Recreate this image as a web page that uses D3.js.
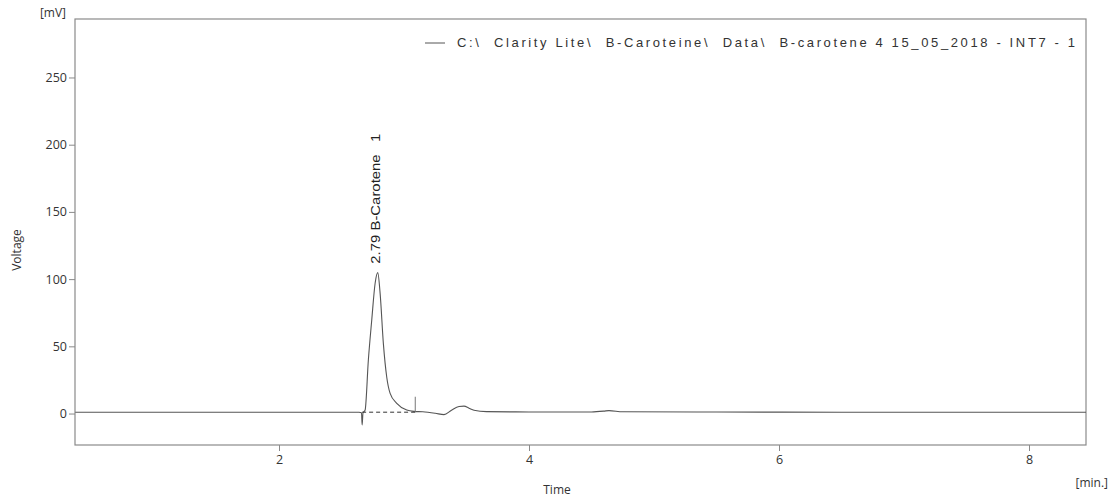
<!DOCTYPE html>
<html>
<head>
<meta charset="utf-8">
<script src="https://cdn.jsdelivr.net/npm/d3@7"></script>
<style>
  body { margin: 0; background: #fff; }
  text { font-family: "Open Sans", "Noto Sans", sans-serif; white-space: pre; }
</style>
</head>
<body>
<svg width="1117" height="497"></svg>
<script>
// chromatogram trace (time in min, voltage in mV)
const times = [0.37, 1.0, 2.0, 2.5, 2.64, 2.66, 2.665, 2.672, 2.689, 2.715, 2.742, 2.769, 2.79,
  2.809, 2.835, 2.862, 2.889, 2.942, 3.022, 3.08, 3.15, 3.25, 3.32, 3.38, 3.44, 3.48, 3.52, 3.56,
  3.66, 4.0, 4.5, 4.6, 4.64, 4.75, 5.5, 6.5, 7.5, 8.456];
const voltage = [1.0, 1.0, 1.0, 1.0, 1.0, 0.6, -8.5, 0.5, 2.6, 40, 69.6, 96.9, 104.8,
  89.4, 52, 27, 15, 7.6, 2.6, 1.6, 1.3, 0.2, -0.8, 2.5, 5.2, 5.5, 4.0, 2.5,
  1.4, 1.2, 1.2, 1.8, 2.2, 1.3, 1.1, 1.0, 1.0, 1.0];

const yTicks = [0, 50, 100, 150, 200, 250];
const xTicks = [2, 4, 6, 8];

const peakLabel = '2.79 B-Carotene   1';
const peakTime = 2.79, peakHeight = 104.8;
const baseStart = 2.665, baseEnd = 3.09, baseLevel = 1.0;
const endMarkTop = 12.5;

const legendText = 'C:\\  Clarity Lite\\  B-Caroteine\\  Data\\  B-carotene 4 15_05_2018 - INT7 - 1';

const svg = d3.select('svg');
const mLeft = 75, mRight = 1086, mTop = 19, mBottom = 445;

const x = d3.scaleLinear().domain([0.368, 8.456]).range([mLeft, mRight]);
const y = d3.scaleLinear().domain([-23.4, 293.5]).range([mBottom, mTop]);

// frame
svg.append('rect')
  .attr('x', mLeft).attr('y', mTop)
  .attr('width', mRight - mLeft).attr('height', mBottom - mTop)
  .attr('fill', 'none').attr('stroke', '#8a8a8a').attr('stroke-width', 1.2);

// axes
const yAxis = svg.append('g')
  .attr('transform', `translate(${mLeft},0)`)
  .call(d3.axisLeft(y).tickValues(yTicks).tickSize(6).tickPadding(2).tickSizeOuter(0));
const xAxis = svg.append('g')
  .attr('transform', `translate(0,${mBottom})`)
  .call(d3.axisBottom(x).tickValues(xTicks).tickSize(6).tickPadding(4).tickSizeOuter(0));

[yAxis, xAxis].forEach(g => {
  g.select('.domain').remove();
  g.selectAll('line').attr('stroke', '#8a8a8a');
  g.selectAll('text')
    .attr('fill', '#333')
    .style('font-size', '12.5px')
    .style('font-family', '"Open Sans", sans-serif');
});

// trace
const pts = times.map((t, i) => [t, voltage[i]]);
svg.append('path')
  .datum(pts)
  .attr('fill', 'none')
  .attr('stroke', '#555')
  .attr('stroke-width', 1.1)
  .attr('d', d3.line().x(d => x(d[0])).y(d => y(d[1])).curve(d3.curveMonotoneX));

// peak baseline (dashed) and end marker
svg.append('line')
  .attr('x1', x(baseStart)).attr('x2', x(baseEnd))
  .attr('y1', y(baseLevel)).attr('y2', y(baseLevel))
  .attr('stroke', '#333').attr('stroke-dasharray', '4,3');
svg.append('line')
  .attr('x1', x(baseEnd)).attr('x2', x(baseEnd))
  .attr('y1', y(baseLevel)).attr('y2', y(endMarkTop))
  .attr('stroke', '#777');

// peak label
svg.append('text')
  .attr('transform', `translate(${x(peakTime) + 2},${y(peakHeight) - 9}) rotate(-90)`)
  .attr('textLength', 130)
  .attr('lengthAdjust', 'spacingAndGlyphs')
  .attr('fill', '#222')
  .style('font-family', '"Liberation Sans Narrow", "Liberation Sans", Arial, sans-serif')
  .style('font-size', '13px')
  .text(peakLabel);

// legend
svg.append('line')
  .attr('x1', 425).attr('x2', 445).attr('y1', 43).attr('y2', 43)
  .attr('stroke', '#555');
svg.append('text')
  .attr('x', 457).attr('y', 47)
  .attr('textLength', 618)
  .attr('lengthAdjust', 'spacing')
  .attr('fill', '#333')
  .style('font-family', '"Liberation Sans", Arial, sans-serif')
  .style('font-size', '13px')
  .text(legendText);

// axis titles and units
svg.append('text')
  .attr('x', 66).attr('y', 17)
  .attr('text-anchor', 'end')
  .attr('fill', '#333').style('font-size', '12px')
  .text('[mV]');
svg.append('text')
  .attr('transform', 'translate(21,250) rotate(-90)')
  .attr('text-anchor', 'middle')
  .attr('fill', '#333').style('font-size', '12px')
  .text('Voltage');
svg.append('text')
  .attr('x', 557).attr('y', 494)
  .attr('text-anchor', 'middle')
  .attr('fill', '#333').style('font-size', '12px')
  .text('Time');
svg.append('text')
  .attr('x', 1108).attr('y', 487)
  .attr('text-anchor', 'end')
  .attr('fill', '#333').style('font-size', '12px')
  .text('[min.]');
</script>
</body>
</html>
